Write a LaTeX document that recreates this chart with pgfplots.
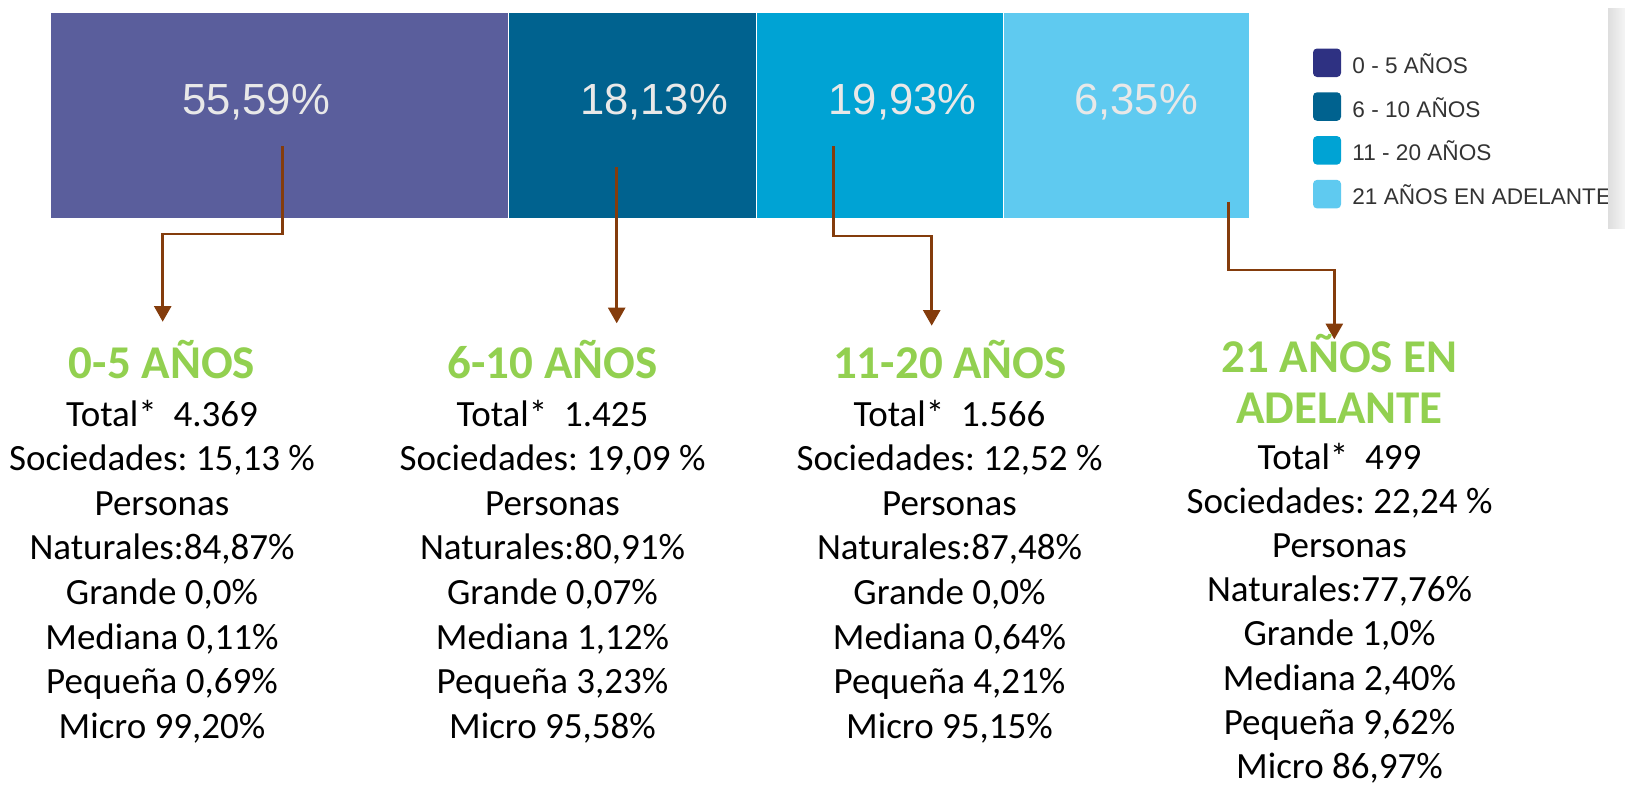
\documentclass[border=0pt]{standalone}
\usepackage{fontspec}
\setmainfont{Carlito}
\newfontfamily\arialf{Liberation Sans}
\usepackage{pgfplots}
\pgfplotsset{compat=1.18}
\usetikzlibrary{arrows.meta}
\frenchspacing

\definecolor{segA}{HTML}{5A5E9C}
\definecolor{segB}{HTML}{00628F}
\definecolor{segC}{HTML}{00A3D4}
\definecolor{segD}{HTML}{5FCAF0}
\definecolor{legA}{HTML}{2E3182}
\definecolor{arrowbrown}{HTML}{843C0C}
\definecolor{headgreen}{HTML}{92D050}
\definecolor{legtext}{HTML}{333333}
\definecolor{barlabel}{HTML}{E8E8E8}

\newcommand{\bodyfont}{\fontsize{18.5}{22}\selectfont}
\newcommand{\headfont}{\fontsize{23.5}{28}\selectfont\bfseries}
\newcommand{\lblfont}{\arialf\fontsize{21.8}{25}\selectfont}
\newcommand{\legfont}{\arialf\fontsize{11.3}{14}\selectfont}

% one text column: x centre, first baseline, line step, lines
\newcommand{\colblock}[4]{%
  \foreach \txt [count=\k from 0] in {#4}
    {\node[anchor=base, inner sep=0pt, font=\bodyfont] at (#1, {#2+#3*\k}) {\txt};}}

\begin{document}
\begin{tikzpicture}
\useasboundingbox (0,0) rectangle (812.5pt,-393.5pt);

\begin{axis}[
    at={(0,0)}, anchor=north west,
    scale only axis, width=812.5pt, height=393.5pt,
    hide axis, clip=false,
    xbar stacked, bar width=206,
    xmin=-4.169, xmax=131.33,
    ymin=0, ymax=787, y dir=reverse,
]
% segment widths, % of bar length
\addplot[fill=segA, draw=white, line width=0.4pt] coordinates {(38.19,115.4)};
\addplot[fill=segB, draw=white, line width=0.4pt] coordinates {(20.68,115.4)};
\addplot[fill=segC, draw=white, line width=0.4pt] coordinates {(20.60,115.4)};
\addplot[fill=segD, draw=white, line width=0.4pt] coordinates {(20.54,115.4)};
\end{axis}

\begin{scope}[x=0.5pt, y=-0.5pt]
% bar labels
\node[anchor=base, inner sep=0pt, font=\lblfont, text=barlabel] at (256,114.3) {55,59\%};
\node[anchor=base, inner sep=0pt, font=\lblfont, text=barlabel] at (654,114.3) {18,13\%};
\node[anchor=base, inner sep=0pt, font=\lblfont, text=barlabel] at (902.5,114.3) {19,93\%};
\node[anchor=base, inner sep=0pt, font=\lblfont, text=barlabel] at (1136,114.3) {6,35\%};

% legend
\foreach \c/\t [count=\i from 0] in {legA/0 - 5 AÑOS, segB/6 - 10 AÑOS, segC/11 - 20 AÑOS, segD/21 AÑOS EN ADELANTE} {
  \fill[\c, rounded corners=2pt] (1313,{48.5+43.8*\i}) rectangle (1341,{77+43.8*\i});
  \node[anchor=base west, inner sep=0pt, font=\legfont, text=legtext] at (1352,{73.3+43.8*\i}) {\t};
}
\shade[left color=black!13, right color=black!4] (1608,8) rectangle (1625,228);

% arrows
\begin{scope}[draw=arrowbrown, line width=1.25pt, -{Triangle[width=8.5pt,length=7.8pt]}]
\draw (282.7,146) -- (282.7,234) -- (162.7,234) -- (162.7,321.7);
\draw (616.7,167) -- (616.7,323.3);
\draw (833.3,146) -- (833.3,236) -- (931.7,236) -- (931.7,325.7);
\draw (1228.3,201.7) -- (1228.3,270) -- (1334.3,270) -- (1334.3,339.3);
\end{scope}

% headings
\begin{scope}[every node/.style={anchor=base, inner sep=0pt, font=\headfont, text=headgreen}]
\node at (162,378) {0-5 AÑOS};
\node at (552.5,378) {6-10 AÑOS};
\node at (950,378) {11-20 AÑOS};
\node at (1339.5,372.3) {21 AÑOS EN};
\node at (1339.5,423.3) {ADELANTE};
\end{scope}

% details
\colblock{162}{426}{44.6}{{Total*\ \ 4.369}, {Sociedades: 15,13 \%}, Personas, {Naturales:84,87\%}, {Grande 0,0\%}, {Mediana 0,11\%}, {Pequeña 0,69\%}, {Micro 99,20\%}}
\colblock{552.5}{426}{44.6}{{Total*\ \ 1.425}, {Sociedades: 19,09 \%}, Personas, {Naturales:80,91\%}, {Grande 0,07\%}, {Mediana 1,12\%}, {Pequeña 3,23\%}, {Micro 95,58\%}}
\colblock{949.5}{426}{44.6}{{Total*\ \ 1.566}, {Sociedades: 12,52 \%}, Personas, {Naturales:87,48\%}, {Grande 0,0\%}, {Mediana 0,64\%}, {Pequeña 4,21\%}, {Micro 95,15\%}}
\colblock{1339.5}{469}{44.2}{{Total*\ \ 499}, {Sociedades: 22,24 \%}, Personas, {Naturales:77,76\%}, {Grande 1,0\%}, {Mediana 2,40\%}, {Pequeña 9,62\%}, {Micro 86,97\%}}
\end{scope}
\end{tikzpicture}
\end{document}
